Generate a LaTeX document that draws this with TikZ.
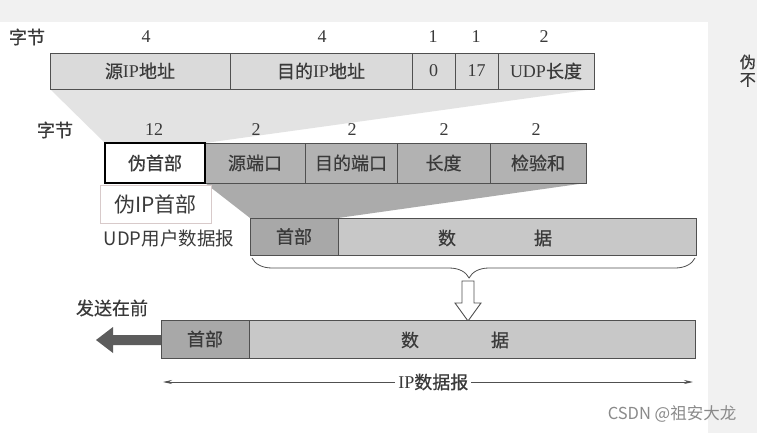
\documentclass[tikz,border=0pt]{standalone}
\usepackage{fontspec}
\setmainfont{Liberation Serif}
\newfontfamily\cjk[FakeBold=0.6]{Noto Sans CJK SC}
\newfontfamily\cjkl{Noto Sans CJK SC}
\usetikzlibrary{arrows.meta,decorations.pathreplacing}
\pgfdeclarelayer{bg}
\pgfsetlayers{bg,main}
\definecolor{pagebg}{HTML}{F1F1F1}
\definecolor{txt}{HTML}{3A3A3A}
\definecolor{edge}{HTML}{505050}
\definecolor{topfill}{HTML}{DADADA}
\definecolor{funa}{HTML}{E3E3E3}
\definecolor{udpfill}{HTML}{B2B2B2}
\definecolor{funb}{HTML}{ABABAB}
\definecolor{hdrfill}{HTML}{A8A8A8}
\definecolor{datfill}{HTML}{C8C8C8}
\definecolor{arrowfill}{HTML}{5C5C5C}
\definecolor{wm}{HTML}{8A8A8A}
\definecolor{pipedge}{HTML}{D8CACA}
\newcommand\zh[1]{{\cjk #1}}
\begin{document}
\begin{tikzpicture}[x=1pt,y=-1pt,
  field/.style={draw=edge, line width=0.9pt, inner sep=0pt, outer sep=0pt,
    text=txt, font=\fontsize{18}{20}\selectfont},
  topfield/.style={field, fill=topfill, minimum height=36pt},
  udpfield/.style={field, fill=udpfill, minimum height=40pt},
  hdrfield/.style={field, fill=hdrfill},
  datfield/.style={field, fill=datfill},
  count/.style={text=txt, font=\fontsize{18}{20}\selectfont, inner sep=0pt},
  note/.style={text=txt, font=\cjk\fontsize{18}{20}\selectfont, inner sep=0pt},
  dim/.style={draw=edge, line width=0.8pt, {Stealth[length=9pt,width=4pt]}-{Stealth[length=9pt,width=4pt]}},
]
\useasboundingbox (0,0) rectangle (757,433);
\clip (0,0) rectangle (757,433);

% top row: IP pseudo header fields
\node[note] (bytesa) at (27,37) {字节};
\node[count] (na1) at (146,37) {4};
\node[count] (na2) at (322,37) {4};
\node[count] (na3) at (433,37) {1};
\node[count] (na4) at (476,37) {1};
\node[count] (na5) at (544,37) {2};
\node[topfield, minimum width=180pt] (sip) at (140,71) {\zh{源}IP\zh{地址}};
\node[topfield, minimum width=182pt] (dip) at (321,71) {\zh{目的}IP\zh{地址}};
\node[topfield, minimum width=43pt] (zero) at (433.5,71) {0};
\node[topfield, minimum width=43pt] (proto) at (476.5,71) {17};
\node[topfield, minimum width=96pt] (ulen) at (546,71) {UDP\zh{长度}};

% second row: UDP header
\node[note] (bytesb) at (55,130) {字节};
\node[count] (nb1) at (154,130) {12};
\node[count] (nb2) at (256,130) {2};
\node[count] (nb3) at (352,130) {2};
\node[count] (nb4) at (444,130) {2};
\node[count] (nb5) at (536,130) {2};
\node[udpfield, minimum width=100pt] (sport) at (255,163) {\zh{源端口}};
\node[udpfield, minimum width=92pt] (dport) at (351,163) {\zh{目的端口}};
\node[udpfield, minimum width=93pt] (ulen2) at (443.5,163) {\zh{长度}};
\node[udpfield, minimum width=96pt] (csum) at (538,163) {\zh{检验和}};
\node[field, fill=white, draw=black, line width=2.4pt, minimum width=100pt, minimum height=40pt] (ph) at (155,163) {\zh{伪首部}};
\node[draw=pipedge, fill=white, line width=0.7pt, inner sep=0pt, minimum width=111pt, minimum height=38pt,
  text=txt, font=\cjkl\fontsize{21}{23}\selectfont] (pip) at (155.5,204) {伪IP首部};

% UDP datagram row
\node[note, font=\cjkl\fontsize{18.5}{20}\selectfont] (udplab) at (169,238) {UDP用户数据报};
\node[hdrfield, minimum width=88pt, minimum height=37pt] (uh) at (294,236.5) {\zh{首部}};
\node[datfield, minimum width=358pt, minimum height=37pt] (ud) at (517,236.5) {};
\node[note] (udd1) at (447,238) {数};
\node[note] (udd2) at (543,238) {据};

% brace and hollow arrow
\coordinate (bl) at (252,258);
\coordinate (br) at (695,258);
\draw[decorate, decoration={brace, mirror, amplitude=20pt, aspect=0.49}, draw=edge, line width=0.8pt] (bl) -- (br);
\draw[draw=edge, fill=white, line width=0.9pt] (462,281) -- (474,281) -- (474,303) -- (481,303) -- (468,321) -- (455,303) -- (462,303) -- cycle;

% IP datagram row
\node[note] (sendfirst) at (112,308) {发送在前};
\node[hdrfield, minimum width=88pt, minimum height=38pt] (ih) at (205,339) {\zh{首部}};
\node[datfield, minimum width=446pt, minimum height=38pt] (id) at (472,339) {};
\node[note] (idd1) at (410,340) {数};
\node[note] (idd2) at (500,340) {据};
\fill[arrowfill] (161,335) -- (113,335) -- (113,327) -- (96,340) -- (113,353) -- (113,345) -- (161,345) -- cycle;

% dimension line
\coordinate (dl) at (163,382);
\coordinate (dr) at (693,382);
\draw[dim] (dl) -- (dr) node[pos=0.51, fill=white, inner sep=3pt, text=txt, font=\fontsize{18}{20}\selectfont] (iplab) {IP\zh{数据报}};

% watermark and text at right edge
\node[text=wm, font=\cjkl\fontsize{16.5}{18}\selectfont, inner sep=0pt] (wmark) at (672,414) {CSDN @祖安大龙};
\node[note, font=\cjk\fontsize{16}{17}\selectfont, anchor=east] (cut1) at (756,62) {伪};
\node[note, font=\cjk\fontsize{16}{17}\selectfont, anchor=east] (cut2) at (756,80) {不};

\begin{pgfonlayer}{bg}
\fill[pagebg] (0,0) rectangle (757,433);
\fill[white] (0,22) rectangle (708,433);
\fill[funa] (sip.south west) -- (ulen.south east) -- (ph.north east) -- (ph.north west) -- cycle;
\fill[funb] (sport.south west) -- (csum.south east) -- (uh.north east) -- (uh.north west) -- cycle;
\end{pgfonlayer}
\end{tikzpicture}
\end{document}
